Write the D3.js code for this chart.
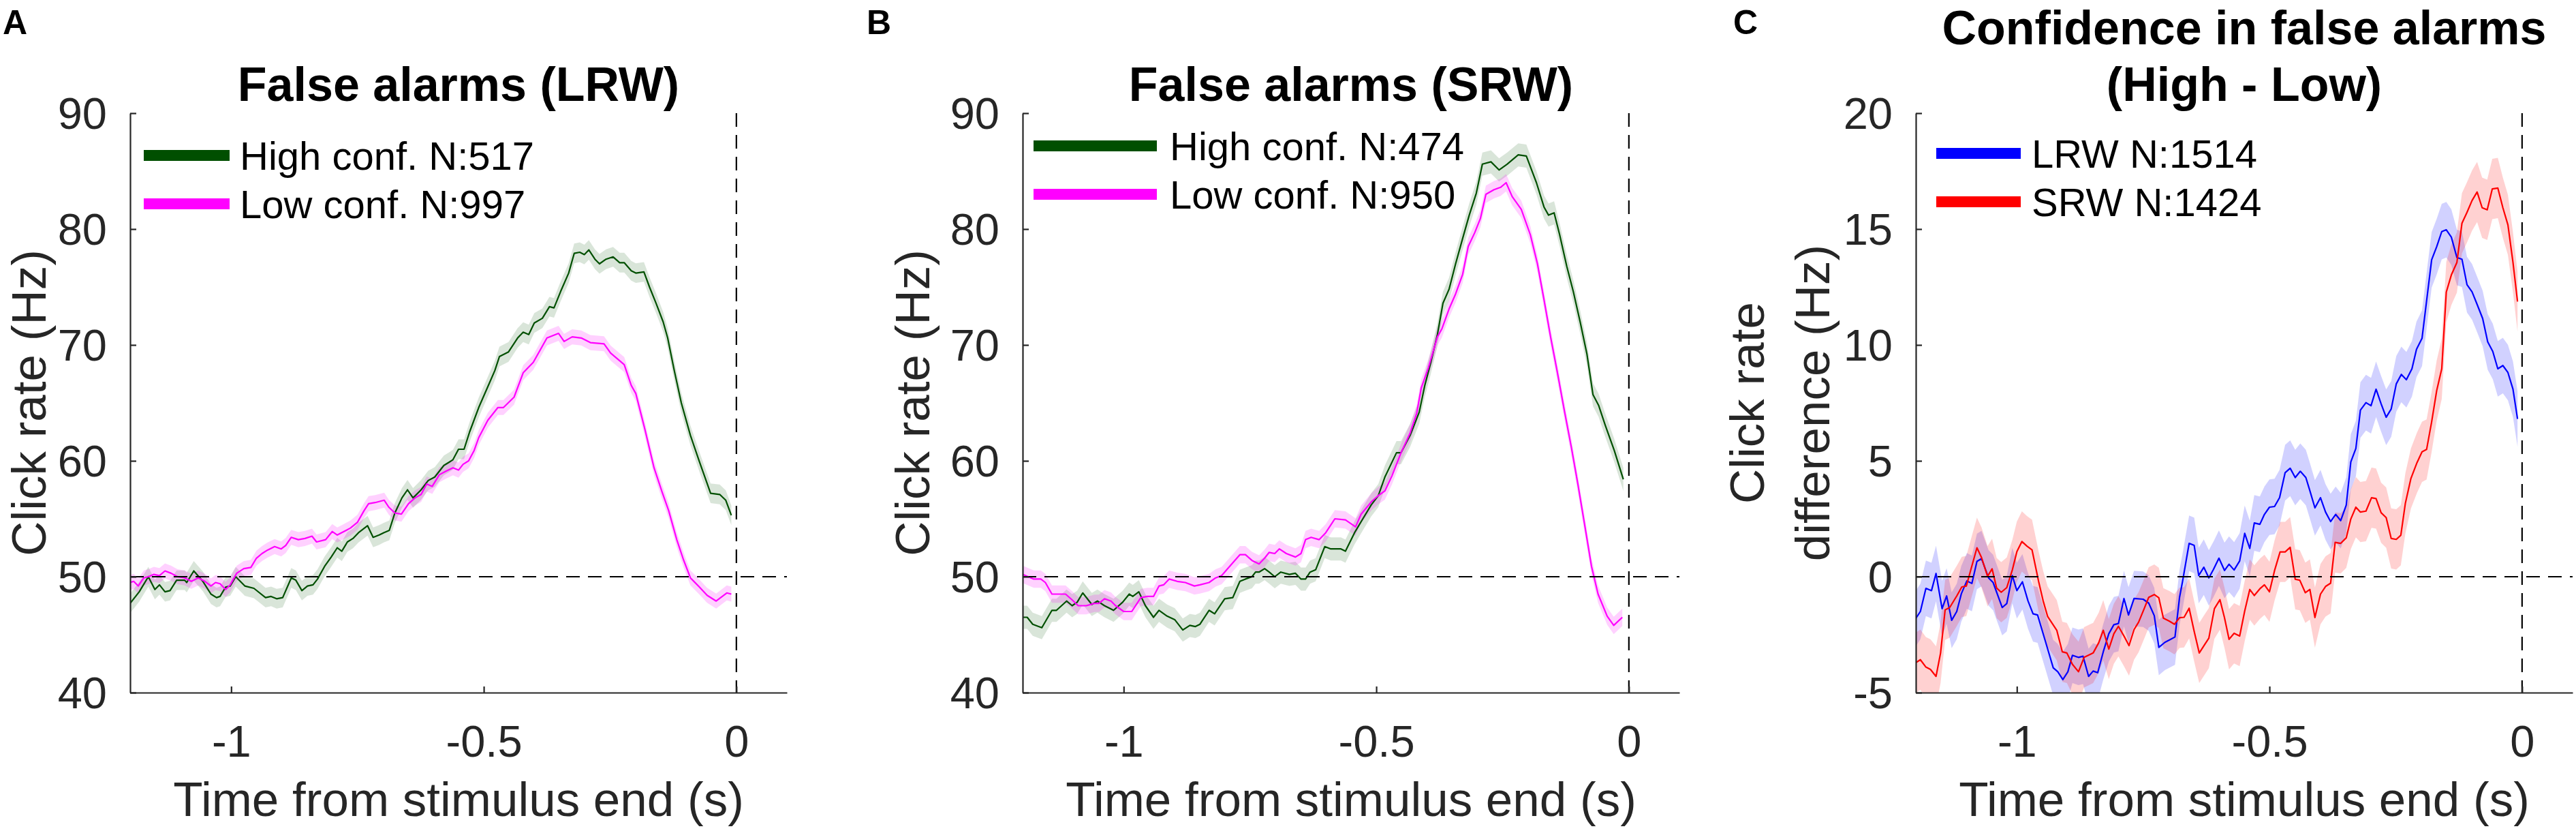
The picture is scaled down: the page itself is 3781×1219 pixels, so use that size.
<!DOCTYPE html>
<html>
<head>
<meta charset="utf-8">
<script src="https://cdn.jsdelivr.net/npm/d3@7"></script>
<style>
  body { margin: 0; background: #fff; }
  text { font-family: "Liberation Sans", Arial, Helvetica, sans-serif; }
</style>
</head>
<body>
<svg id="chart" width="3781" height="1219"></svg>
<script>
// ---- data: [time from stimulus end (s), value] ----

// A: false alarms, LRW (click rate, Hz)
const lrwHigh = [[-1.200,47.7],[-1.182,48.7],[-1.164,50.0],[-1.151,48.9],[-1.142,49.3],[-1.131,48.7],[-1.121,48.8],[-1.108,49.7],[-1.092,49.7],[-1.088,49.5],[-1.074,50.5],[-1.056,49.6],[-1.040,48.5],[-1.029,48.2],[-1.022,48.3],[-1.011,49.1],[-1.002,49.2],[-0.991,50.0],[-0.973,49.2],[-0.955,49.0],[-0.932,48.2],[-0.921,48.3],[-0.910,48.1],[-0.898,48.2],[-0.881,49.9],[-0.872,49.7],[-0.860,48.8],[-0.849,49.2],[-0.838,49.3],[-0.829,49.8],[-0.815,50.9],[-0.802,51.7],[-0.790,52.5],[-0.781,52.2],[-0.770,53.0],[-0.759,53.3],[-0.748,53.8],[-0.730,54.4],[-0.719,53.4],[-0.707,53.6],[-0.698,53.8],[-0.687,54.0],[-0.676,55.5],[-0.662,56.8],[-0.651,57.5],[-0.640,56.8],[-0.624,57.5],[-0.610,58.3],[-0.597,58.6],[-0.579,59.6],[-0.568,59.9],[-0.561,60.1],[-0.550,61.0],[-0.539,61.0],[-0.528,62.5],[-0.510,64.6],[-0.492,66.4],[-0.478,67.8],[-0.469,69.0],[-0.451,69.4],[-0.433,70.6],[-0.422,71.1],[-0.411,70.9],[-0.400,71.9],[-0.384,72.3],[-0.370,73.3],[-0.361,73.2],[-0.348,74.6],[-0.332,76.2],[-0.321,77.9],[-0.310,78.0],[-0.301,77.8],[-0.292,78.2],[-0.280,77.4],[-0.271,77.0],[-0.258,77.4],[-0.244,77.6],[-0.231,77.1],[-0.222,77.1],[-0.208,76.4],[-0.199,76.2],[-0.183,76.3],[-0.172,75.0],[-0.159,73.6],[-0.145,72.0],[-0.136,70.6],[-0.123,67.8],[-0.109,65.0],[-0.091,62.2],[-0.073,59.9],[-0.051,57.2],[-0.033,57.1],[-0.021,56.6],[-0.010,55.3]];
const lrwLow = [[-1.200,49.5],[-1.193,49.6],[-1.184,49.2],[-1.173,49.9],[-1.164,50.0],[-1.153,50.2],[-1.142,50.1],[-1.131,50.5],[-1.119,50.3],[-1.106,50.0],[-1.092,49.9],[-1.079,49.6],[-1.065,49.9],[-1.052,49.6],[-1.040,49.2],[-1.031,49.5],[-1.022,49.4],[-1.011,48.9],[-1.002,49.3],[-0.989,50.3],[-0.975,50.7],[-0.961,50.8],[-0.950,51.6],[-0.939,52.0],[-0.928,52.3],[-0.914,52.6],[-0.901,52.4],[-0.892,52.7],[-0.881,53.4],[-0.867,53.2],[-0.854,53.3],[-0.840,53.5],[-0.831,53.0],[-0.813,53.2],[-0.800,53.9],[-0.790,53.6],[-0.777,53.9],[-0.764,54.2],[-0.750,54.7],[-0.737,55.7],[-0.728,56.3],[-0.715,56.4],[-0.697,56.6],[-0.688,56.0],[-0.676,55.5],[-0.663,55.4],[-0.649,56.3],[-0.636,56.8],[-0.624,57.1],[-0.613,58.0],[-0.602,57.8],[-0.588,58.8],[-0.575,59.1],[-0.561,59.4],[-0.550,59.2],[-0.541,59.7],[-0.530,60.0],[-0.519,60.9],[-0.510,62.0],[-0.492,63.5],[-0.472,64.6],[-0.461,64.6],[-0.440,65.5],[-0.422,67.6],[-0.402,68.5],[-0.375,70.6],[-0.352,71.0],[-0.341,70.3],[-0.325,70.7],[-0.307,70.6],[-0.289,70.2],[-0.262,70.1],[-0.249,69.3],[-0.222,68.3],[-0.208,66.5],[-0.199,65.8],[-0.181,62.7],[-0.163,59.4],[-0.147,57.3],[-0.134,55.7],[-0.118,53.2],[-0.105,51.5],[-0.091,49.9],[-0.073,49.1],[-0.058,48.4],[-0.040,47.9],[-0.019,48.6],[-0.010,48.5]];

// B: false alarms, SRW (click rate, Hz)
const srwHigh = [[-1.200,46.5],[-1.191,46.5],[-1.180,45.9],[-1.162,45.6],[-1.142,47.1],[-1.133,47.1],[-1.113,47.9],[-1.102,47.5],[-1.092,47.8],[-1.081,48.6],[-1.063,47.6],[-1.052,47.9],[-1.038,47.5],[-1.020,47.1],[-1.002,47.8],[-0.989,48.5],[-0.982,48.3],[-0.970,48.7],[-0.957,47.5],[-0.941,46.5],[-0.930,47.1],[-0.914,46.6],[-0.899,46.3],[-0.883,45.4],[-0.869,45.8],[-0.858,45.7],[-0.849,45.9],[-0.831,47.1],[-0.820,46.8],[-0.800,48.1],[-0.784,48.2],[-0.770,49.6],[-0.759,49.8],[-0.746,50.0],[-0.739,50.4],[-0.732,50.4],[-0.721,50.7],[-0.712,50.4],[-0.701,50.0],[-0.689,50.4],[-0.672,50.2],[-0.660,50.3],[-0.649,49.8],[-0.640,49.8],[-0.631,50.4],[-0.620,50.6],[-0.602,52.6],[-0.590,52.4],[-0.581,52.4],[-0.570,52.4],[-0.561,52.2],[-0.543,53.8],[-0.528,54.9],[-0.510,56.2],[-0.496,57.0],[-0.483,58.6],[-0.460,60.7],[-0.451,60.7],[-0.433,62.2],[-0.415,64.2],[-0.404,66.5],[-0.392,68.5],[-0.379,70.9],[-0.368,73.6],[-0.356,74.8],[-0.343,77.0],[-0.329,79.2],[-0.316,81.2],[-0.302,83.1],[-0.290,85.6],[-0.273,85.8],[-0.257,85.1],[-0.241,85.6],[-0.219,86.4],[-0.203,86.3],[-0.183,84.0],[-0.168,81.9],[-0.159,81.2],[-0.148,81.4],[-0.137,79.5],[-0.123,76.8],[-0.110,74.6],[-0.096,71.9],[-0.083,69.2],[-0.071,65.7],[-0.060,64.8],[-0.047,63.1],[-0.029,60.9],[-0.011,58.4]];
const srwLow = [[-1.200,50.2],[-1.178,49.8],[-1.164,49.8],[-1.155,49.5],[-1.142,48.5],[-1.131,48.5],[-1.115,48.5],[-1.102,48.0],[-1.090,47.5],[-1.074,47.5],[-1.058,47.7],[-1.049,47.7],[-1.038,48.1],[-1.025,47.9],[-1.016,47.5],[-1.000,47.0],[-0.984,47.0],[-0.966,48.2],[-0.953,48.3],[-0.941,48.3],[-0.930,49.2],[-0.921,49.3],[-0.910,49.8],[-0.894,49.6],[-0.878,49.5],[-0.860,49.2],[-0.849,49.3],[-0.831,49.5],[-0.818,49.9],[-0.806,50.1],[-0.786,51.1],[-0.770,51.9],[-0.759,51.9],[-0.746,51.4],[-0.732,51.1],[-0.721,51.6],[-0.712,52.1],[-0.701,52.0],[-0.692,52.4],[-0.678,52.0],[-0.660,51.7],[-0.649,52.0],[-0.640,53.2],[-0.629,53.4],[-0.613,53.2],[-0.600,53.8],[-0.582,55.0],[-0.561,54.9],[-0.541,54.3],[-0.530,55.4],[-0.509,56.5],[-0.496,57.0],[-0.483,57.4],[-0.469,58.7],[-0.451,60.7],[-0.433,62.4],[-0.420,64.1],[-0.411,66.3],[-0.397,68.0],[-0.379,70.7],[-0.370,71.4],[-0.356,73.1],[-0.343,74.4],[-0.329,76.1],[-0.318,78.5],[-0.305,79.7],[-0.294,80.9],[-0.283,83.0],[-0.267,83.4],[-0.254,83.6],[-0.243,84.0],[-0.231,82.8],[-0.213,81.7],[-0.195,79.5],[-0.181,77.0],[-0.168,73.9],[-0.155,70.7],[-0.141,67.5],[-0.128,64.4],[-0.114,61.2],[-0.101,58.0],[-0.088,54.6],[-0.074,50.9],[-0.061,48.5],[-0.043,46.6],[-0.030,45.8],[-0.013,46.5]];

// C: high minus low confidence (click rate difference, Hz)
const diffLrw = [[-1.200,-1.8],[-1.191,-1.5],[-1.180,-0.5],[-1.169,-0.6],[-1.160,0.14],[-1.148,-1.38],[-1.139,-0.83],[-1.129,-1.88],[-1.119,-1.5],[-1.110,-0.74],[-1.099,-0.18],[-1.089,-0.29],[-1.079,0.66],[-1.070,0.78],[-1.056,-0.05],[-1.047,-0.25],[-1.029,-1.33],[-1.020,-1.16],[-1.009,0.05],[-1.000,-0.6],[-0.989,-0.22],[-0.978,-1.04],[-0.968,-1.6],[-0.959,-1.65],[-0.944,-2.75],[-0.928,-3.93],[-0.919,-4.1],[-0.909,-4.44],[-0.899,-4.1],[-0.890,-3.39],[-0.878,-3.48],[-0.869,-3.43],[-0.858,-4.3],[-0.849,-4.07],[-0.840,-4.14],[-0.829,-3.24],[-0.818,-2.46],[-0.808,-2.07],[-0.799,-2.02],[-0.788,-0.94],[-0.779,-1.65],[-0.768,-0.94],[-0.750,-0.97],[-0.739,-1.14],[-0.728,-1.68],[-0.719,-3.05],[-0.707,-2.83],[-0.698,-2.73],[-0.687,-2.6],[-0.678,-0.89],[-0.672,-0.2],[-0.659,1.44],[-0.649,1.35],[-0.640,0.05],[-0.630,0.41],[-0.620,-0.05],[-0.611,0.31],[-0.600,0.8],[-0.589,0.27],[-0.580,0.54],[-0.570,0.29],[-0.559,0.68],[-0.549,1.87],[-0.539,1.22],[-0.530,2.32],[-0.519,2.26],[-0.510,2.69],[-0.500,3.0],[-0.490,3.03],[-0.480,3.41],[-0.469,4.49],[-0.459,4.68],[-0.449,4.28],[-0.439,4.55],[-0.428,4.28],[-0.420,3.71],[-0.410,2.97],[-0.399,3.41],[-0.389,2.79],[-0.379,2.38],[-0.369,2.69],[-0.359,2.42],[-0.348,3.09],[-0.339,4.95],[-0.329,5.53],[-0.320,7.19],[-0.309,7.51],[-0.299,7.38],[-0.289,8.09],[-0.279,7.46],[-0.269,6.88],[-0.259,7.24],[-0.249,8.32],[-0.239,8.73],[-0.229,8.5],[-0.218,8.97],[-0.209,9.81],[-0.198,10.29],[-0.188,12.08],[-0.179,13.67],[-0.169,14.24],[-0.159,14.89],[-0.150,14.97],[-0.140,14.65],[-0.129,13.77],[-0.119,13.7],[-0.109,12.6],[-0.099,12.29],[-0.089,11.75],[-0.078,11.14],[-0.068,10.13],[-0.058,9.72],[-0.048,8.97],[-0.038,9.11],[-0.028,8.81],[-0.018,8.09],[-0.009,6.81]];
const diffSrw = [[-1.200,-3.71],[-1.191,-3.58],[-1.180,-3.9],[-1.171,-4.0],[-1.160,-4.3],[-1.151,-3.29],[-1.142,-1.43],[-1.133,-1.33],[-1.119,-0.83],[-1.109,-0.44],[-1.100,-0.4],[-1.090,0.39],[-1.079,1.25],[-1.070,0.83],[-1.058,0.02],[-1.049,0.34],[-1.040,-0.49],[-1.031,-0.67],[-1.020,-0.47],[-1.009,0.29],[-1.000,1.08],[-0.990,1.52],[-0.980,1.32],[-0.970,1.16],[-0.957,-0.2],[-0.948,-1.04],[-0.939,-1.72],[-0.921,-2.31],[-0.910,-3.24],[-0.901,-3.29],[-0.890,-3.78],[-0.878,-4.1],[-0.867,-3.48],[-0.853,-3.33],[-0.849,-3.29],[-0.838,-2.85],[-0.829,-2.31],[-0.818,-3.12],[-0.808,-2.46],[-0.799,-2.14],[-0.788,-2.56],[-0.778,-2.97],[-0.768,-2.28],[-0.759,-1.96],[-0.748,-1.38],[-0.739,-0.89],[-0.728,-0.77],[-0.719,-0.91],[-0.710,-1.79],[-0.698,-1.92],[-0.688,-2.05],[-0.678,-1.77],[-0.669,-1.75],[-0.659,-1.36],[-0.649,-2.36],[-0.639,-3.29],[-0.629,-2.95],[-0.620,-2.65],[-0.609,-1.38],[-0.598,-0.99],[-0.589,-1.77],[-0.580,-2.7],[-0.570,-2.44],[-0.559,-2.56],[-0.549,-1.48],[-0.539,-0.55],[-0.530,-0.81],[-0.519,-0.52],[-0.510,-0.35],[-0.500,-0.65],[-0.490,0.26],[-0.479,1.07],[-0.469,1.07],[-0.459,1.27],[-0.449,-0.11],[-0.440,-0.15],[-0.429,-0.69],[-0.420,-0.55],[-0.410,-1.76],[-0.399,-0.75],[-0.389,-0.42],[-0.379,-0.28],[-0.370,1.48],[-0.359,1.44],[-0.348,1.68],[-0.339,2.49],[-0.329,3.0],[-0.320,2.79],[-0.309,2.83],[-0.298,3.41],[-0.289,3.37],[-0.279,2.76],[-0.269,2.55],[-0.259,1.65],[-0.249,1.61],[-0.240,1.79],[-0.231,3.17],[-0.220,4.24],[-0.208,4.92],[-0.198,5.39],[-0.189,5.49],[-0.179,6.68],[-0.169,8.03],[-0.159,8.97],[-0.150,12.28],[-0.140,13.02],[-0.129,13.56],[-0.119,15.25],[-0.109,15.72],[-0.099,16.23],[-0.089,16.6],[-0.079,15.92],[-0.069,15.83],[-0.059,16.73],[-0.048,16.77],[-0.038,15.92],[-0.028,15.18],[-0.018,13.56],[-0.009,11.87]];

// half-width of the shaded error band, one per series (Hz)
const bandHalfWidth = { lrwHigh: 0.85, lrwLow: 0.65, srwHigh: 1.0, srwLow: 0.75, diffLrw: 1.2, diffSrw: 1.3 };

const timeDomain = [-1.2, 0.1];
const timeTicks = [-1, -0.5, 0];
const rateTicks = [40, 50, 60, 70, 80, 90];
const diffTicks = [-5, 0, 5, 10, 15, 20];

// ---- layout ----
const plotTop = 166, plotBottom = 1016, plotWidth = 964;
const tickFont = 65, labelFont = 71, titleFont = 70, legendFont = 58;
const axisColor = "#262626";

const panels = [
    {
        letter: "A", letterX: 4, left: 191,
        title: ["False alarms (LRW)"], titleY: [148],
        yLabel: ["Click rate (Hz)"], yLabelX: [67],
        yDomain: [40, 90], yTicks: rateTicks, refY: 50,
        legend: { x1: 211, x2: 337, textX: 352, y: [228, 299] },
        series: [
            { key: "lrwHigh", data: lrwHigh, color: "#004f00", bandOpacity: 0.15, name: "High conf. N:517" },
            { key: "lrwLow", data: lrwLow, color: "#ff00ff", bandOpacity: 0.18, name: "Low conf. N:997" }
        ]
    },
    {
        letter: "B", letterX: 1272, left: 1501,
        title: ["False alarms (SRW)"], titleY: [148],
        yLabel: ["Click rate (Hz)"], yLabelX: [1364],
        yDomain: [40, 90], yTicks: rateTicks, refY: 50,
        legend: { x1: 1517, x2: 1698, textX: 1717, y: [214, 285] },
        series: [
            { key: "srwHigh", data: srwHigh, color: "#004f00", bandOpacity: 0.15, name: "High conf. N:474" },
            { key: "srwLow", data: srwLow, color: "#ff00ff", bandOpacity: 0.18, name: "Low conf. N:950" }
        ]
    },
    {
        letter: "C", letterX: 2544, left: 2812,
        title: ["Confidence in false alarms", "(High - Low)"], titleY: [65, 148],
        yLabel: ["Click rate", "difference (Hz)"], yLabelX: [2589, 2685],
        yDomain: [-5, 20], yTicks: diffTicks, refY: 0,
        legend: { x1: 2842, x2: 2966, textX: 2982, y: [225, 296] },
        series: [
            { key: "diffLrw", data: diffLrw, color: "#0000ff", bandOpacity: 0.18, name: "LRW N:1514" },
            { key: "diffSrw", data: diffSrw, color: "#ff0000", bandOpacity: 0.18, name: "SRW N:1424" }
        ]
    }
];

const svg = d3.select("#chart");
svg.append("rect").attr("width", 3781).attr("height", 1219).attr("fill", "white");

const tickText = d => d3.format("~g")(d).replace("\u2212", "-");

panels.forEach((p, i) => {
    const x = d3.scaleLinear().domain(timeDomain).range([p.left, p.left + plotWidth]);
    const y = d3.scaleLinear().domain(p.yDomain).range([plotBottom, plotTop]);
    const g = svg.append("g").attr("class", "panel");

    // clip data to the axes box, like MATLAB does
    const clipId = "clip" + i;
    svg.append("clipPath").attr("id", clipId)
        .append("rect")
        .attr("x", x(timeDomain[0])).attr("y", y(p.yDomain[1]))
        .attr("width", x(timeDomain[1]) - x(timeDomain[0]))
        .attr("height", y(p.yDomain[0]) - y(p.yDomain[1]));

    const dataG = g.append("g").attr("clip-path", `url(#${clipId})`);

    const line = d3.line()
        .x(d => x(d[0]))
        .y(d => y(d[1]));

    // shaded bands first, then the mean lines on top
    p.series.forEach(s => {
        const hw = bandHalfWidth[s.key];
        const area = d3.area()
            .x(d => x(d[0]))
            .y0(d => y(d[1] - hw))
            .y1(d => y(d[1] + hw));
        dataG.append("path")
            .datum(s.data)
            .attr("d", area)
            .attr("fill", s.color)
            .attr("fill-opacity", s.bandOpacity)
            .attr("stroke", "none");
    });
    p.series.forEach(s => {
        dataG.append("path")
            .datum(s.data)
            .attr("d", line)
            .attr("fill", "none")
            .attr("stroke", s.color)
            .attr("stroke-width", 2.2)
            .attr("stroke-linejoin", "round");
    });

    // dashed reference lines
    g.append("line")
        .attr("x1", x(timeDomain[0])).attr("x2", x(timeDomain[1]))
        .attr("y1", y(p.refY)).attr("y2", y(p.refY))
        .attr("stroke", "black").attr("stroke-width", 2.2)
        .attr("stroke-dasharray", "20,12");
    g.append("line")
        .attr("x1", x(0)).attr("x2", x(0))
        .attr("y1", y(p.yDomain[1])).attr("y2", y(p.yDomain[0]))
        .attr("stroke", "black").attr("stroke-width", 2.2)
        .attr("stroke-dasharray", "20,12");

    // axes (ticks point inward)
    const xAxis = d3.axisBottom(x).tickValues(timeTicks).tickSizeInner(-9).tickSizeOuter(0).tickFormat(tickText);
    const yAxis = d3.axisLeft(y).tickValues(p.yTicks).tickSizeInner(-9).tickSizeOuter(0)
        .tickPadding(34).tickFormat(tickText);

    const gx = g.append("g").attr("transform", `translate(0,${plotBottom})`).call(xAxis);
    const gy = g.append("g").attr("transform", `translate(${p.left},0)`).call(yAxis);

    [gx, gy].forEach(ax => {
        ax.select(".domain").attr("stroke", axisColor).attr("stroke-width", 2.2);
        ax.selectAll(".tick line").attr("stroke", axisColor).attr("stroke-width", 2.2);
        ax.selectAll(".tick text")
            .attr("fill", axisColor)
            .style("font-size", tickFont + "px")
            .style("font-family", '"Liberation Sans", Arial, sans-serif');
    });
    gx.selectAll(".tick text").attr("y", 94).attr("dy", "0");
    gy.selectAll(".tick text").attr("dy", "0.35em");

    // x label
    g.append("text")
        .attr("x", p.left + plotWidth / 2).attr("y", 1197)
        .attr("text-anchor", "middle")
        .attr("fill", axisColor)
        .style("font-size", labelFont + "px")
        .text("Time from stimulus end (s)");

    // y label (one or two lines)
    const yMid = (plotTop + plotBottom) / 2;
    p.yLabel.forEach((lbl, j) => {
        g.append("text")
            .attr("transform", `translate(${p.yLabelX[j]},${yMid}) rotate(-90)`)
            .attr("text-anchor", "middle")
            .attr("fill", axisColor)
            .style("font-size", labelFont + "px")
            .text(lbl);
    });

    // title
    p.title.forEach((t, j) => {
        g.append("text")
            .attr("x", p.left + plotWidth / 2).attr("y", p.titleY[j])
            .attr("text-anchor", "middle")
            .attr("fill", "black")
            .style("font-size", titleFont + "px")
            .style("font-weight", "bold")
            .text(t);
    });

    // panel letter
    g.append("text")
        .attr("x", p.letterX).attr("y", 50)
        .attr("fill", "black")
        .style("font-size", "50px")
        .style("font-weight", "bold")
        .text(p.letter);

    // legend
    p.series.forEach((s, j) => {
        const ly = p.legend.y[j];
        g.append("line")
            .attr("x1", p.legend.x1).attr("x2", p.legend.x2)
            .attr("y1", ly).attr("y2", ly)
            .attr("stroke", s.color).attr("stroke-width", 16);
        g.append("text")
            .attr("x", p.legend.textX).attr("y", ly)
            .attr("dy", "0.36em")
            .attr("fill", "black")
            .style("font-size", legendFont + "px")
            .text(s.name);
    });
});
</script>
</body>
</html>
